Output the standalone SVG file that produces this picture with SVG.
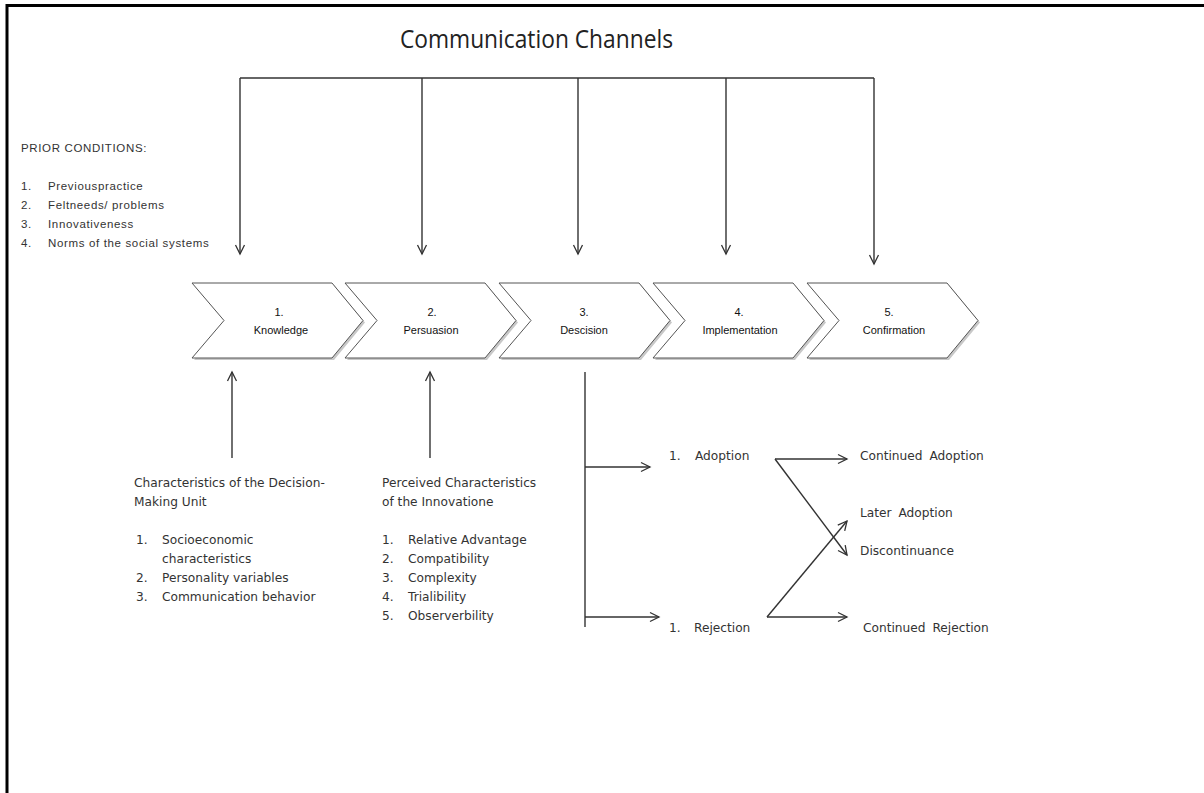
<svg xmlns="http://www.w3.org/2000/svg" width="1204" height="793" viewBox="0 0 1204 793">
<defs>
<marker id="ah" markerWidth="12" markerHeight="12" refX="10" refY="5" orient="auto" markerUnits="userSpaceOnUse" viewBox="0 0 12 10">
<path d="M1,0.5 L10,5 L1,9.5" fill="none" stroke="#333" stroke-width="1.3"/>
</marker>
<polygon id="chev" points="0,0 140,0 171,37.5 140,75 0,75 32,37.5"/>
</defs>
<style>
.ln{fill:none;stroke:#333;stroke-width:1.4}
.ar{fill:none;stroke:#333;stroke-width:1.4;marker-end:url(#ah)}
.ch{fill:#fff;stroke:#555;stroke-width:1}
.sh{fill:#c8c8c8;stroke:none}
.ct{font-family:"Liberation Sans",Arial,sans-serif;font-size:11px;fill:#111;text-anchor:middle}
.pc{font-family:"Liberation Sans",Arial,sans-serif;font-size:11.5px;fill:#333;letter-spacing:0.65px}
.bt{font-family:"DejaVu Sans",Verdana,sans-serif;font-size:12.2px;fill:#333}
.rt{font-family:"DejaVu Sans",Verdana,sans-serif;font-size:12.2px;fill:#333;word-spacing:3px}
.title{font-family:"Open Sans","Liberation Sans",sans-serif;font-size:25px;fill:#222}
</style>
<rect width="1204" height="793" fill="#fff"/>
<path d="M7,793 V5.5 H1204" fill="none" stroke="#000" stroke-width="3"/>

<g id="title"><text class="title" x="400" y="48" textLength="273" lengthAdjust="spacingAndGlyphs">Communication Channels</text></g>

<g id="prior-conditions">
<text class="pc" x="21" y="152">PRIOR CONDITIONS:</text>
<text class="pc" x="21" y="190">1.</text><text class="pc" x="48" y="190">Previouspractice</text>
<text class="pc" x="21" y="209">2.</text><text class="pc" x="48" y="209">Feltneeds/ problems</text>
<text class="pc" x="21" y="228">3.</text><text class="pc" x="48" y="228">Innovativeness</text>
<text class="pc" x="21" y="247">4.</text><text class="pc" x="48" y="247">Norms of the social systems</text>
</g>

<g id="stage-knowledge">
<use href="#chev" x="194" y="285" class="sh"/>
<use href="#chev" x="192" y="283" class="ch"/>
<text class="ct" x="279" y="316">1.</text>
<text class="ct" x="281" y="334">Knowledge</text>
</g>
<g id="stage-persuasion">
<use href="#chev" x="347" y="285" class="sh"/>
<use href="#chev" x="345" y="283" class="ch"/>
<text class="ct" x="432" y="316">2.</text>
<text class="ct" x="431" y="334">Persuasion</text>
</g>
<g id="stage-decision">
<use href="#chev" x="501" y="285" class="sh"/>
<use href="#chev" x="499" y="283" class="ch"/>
<text class="ct" x="584" y="316">3.</text>
<text class="ct" x="584" y="334">Descision</text>
</g>
<g id="stage-implementation">
<use href="#chev" x="655" y="285" class="sh"/>
<use href="#chev" x="653" y="283" class="ch"/>
<text class="ct" x="739" y="316">4.</text>
<text class="ct" x="740" y="334">Implementation</text>
</g>
<g id="stage-confirmation">
<use href="#chev" x="809" y="285" class="sh"/>
<use href="#chev" x="807" y="283" class="ch"/>
<text class="ct" x="889" y="316">5.</text>
<text class="ct" x="894" y="334">Confirmation</text>
</g>

<g id="decision-unit">
<text class="bt" x="134" y="487">Characteristics of the Decision-</text>
<text class="bt" x="134" y="506">Making Unit</text>
<text class="bt" x="136" y="544">1.</text><text class="bt" x="162" y="544">Socioeconomic</text>
<text class="bt" x="162" y="563">characteristics</text>
<text class="bt" x="136" y="582">2.</text><text class="bt" x="162" y="582">Personality variables</text>
<text class="bt" x="136" y="601">3.</text><text class="bt" x="162" y="601">Communication behavior</text>
</g>

<g id="perceived-characteristics">
<text class="bt" x="382" y="487">Perceived Characteristics</text>
<text class="bt" x="382" y="506">of the Innovatione</text>
<text class="bt" x="382" y="544">1.</text><text class="bt" x="408" y="544">Relative Advantage</text>
<text class="bt" x="382" y="563">2.</text><text class="bt" x="408" y="563">Compatibility</text>
<text class="bt" x="382" y="582">3.</text><text class="bt" x="408" y="582">Complexity</text>
<text class="bt" x="382" y="601">4.</text><text class="bt" x="408" y="601">Trialibility</text>
<text class="bt" x="382" y="620">5.</text><text class="bt" x="408" y="620">Observerbility</text>
</g>

<g id="adoption"><text class="rt" x="669" y="460">1.</text><text class="rt" x="695" y="460">Adoption</text></g>
<g id="rejection"><text class="rt" x="669" y="632">1.</text><text class="rt" x="694" y="632">Rejection</text></g>
<g id="continued-adoption"><text class="rt" x="860" y="460">Continued Adoption</text></g>
<g id="later-adoption"><text class="rt" x="860" y="517">Later Adoption</text></g>
<g id="discontinuance"><text class="rt" x="860" y="555">Discontinuance</text></g>
<g id="continued-rejection"><text class="rt" x="863" y="632">Continued Rejection</text></g>

<g id="connectors">
<path class="ln" d="M240,78 H874"/>
<path class="ar" d="M240,78 V254"/>
<path class="ar" d="M422,78 V254"/>
<path class="ar" d="M578,78 V254"/>
<path class="ar" d="M726,78 V254"/>
<path class="ar" d="M874,78 V264"/>
<path class="ar" d="M232,458 V372"/>
<path class="ar" d="M430,458 V372"/>
<path class="ln" d="M585,372 V627"/>
<path class="ar" d="M585,467 H650"/>
<path class="ar" d="M585,617 H659"/>
<path class="ar" d="M775,459 H847"/>
<path class="ar" d="M775,459 L847,555"/>
<path class="ar" d="M767,617 H847"/>
<path class="ar" d="M767,617 L847,521"/>
</g>
</svg>
